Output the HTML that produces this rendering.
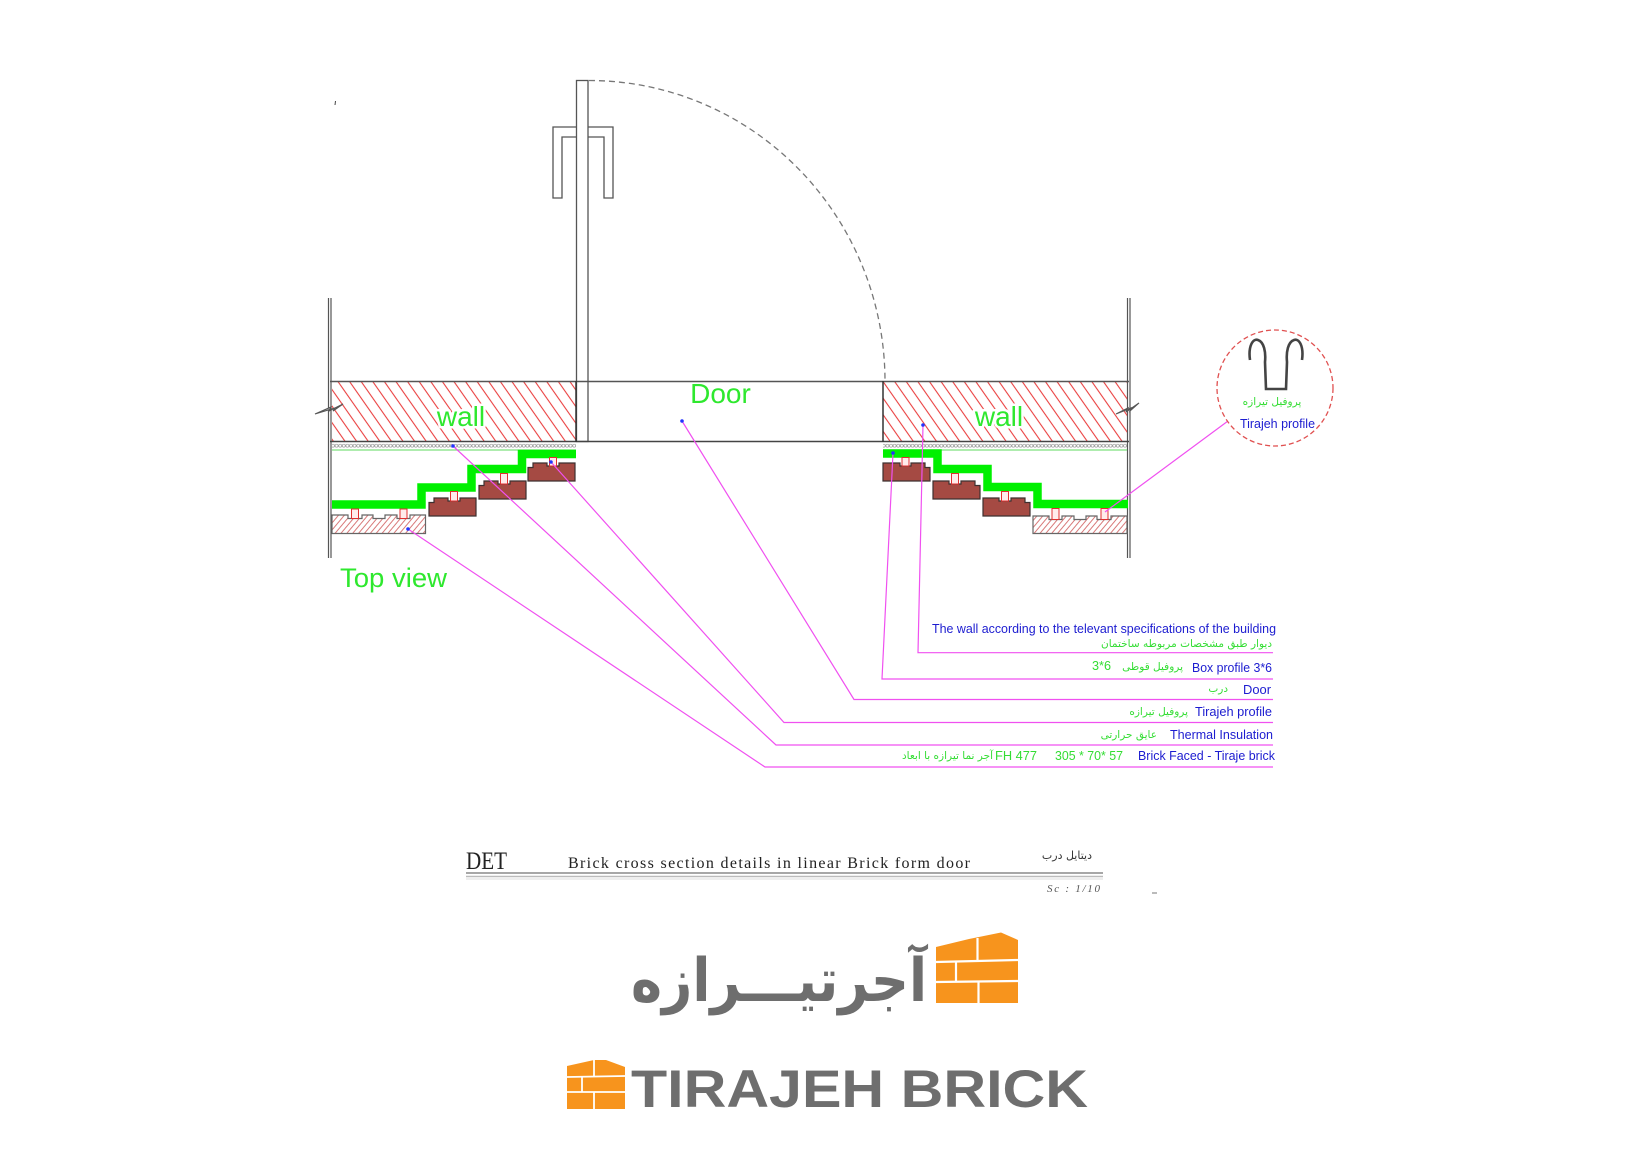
<!DOCTYPE html>
<html><head><meta charset="utf-8"><style>html,body{margin:0;padding:0;background:#fff}svg{display:block}</style></head>
<body>
<svg width="1650" height="1168" viewBox="0 0 1650 1168" xmlns="http://www.w3.org/2000/svg">
<defs>
<pattern id="wh" patternUnits="userSpaceOnUse" width="9.5" height="10" patternTransform="rotate(-35)">
<line x1="1" y1="0" x2="1" y2="10" stroke="#ea4040" stroke-width="1.1"/>
</pattern>
<pattern id="bh" patternUnits="userSpaceOnUse" width="4.5" height="10" patternTransform="rotate(40)">
<line x1="1" y1="0" x2="1" y2="10" stroke="#d46a6a" stroke-width="0.9"/>
</pattern>
<pattern id="ins" patternUnits="userSpaceOnUse" width="3.6" height="7" x="0" y="442.5">
<circle cx="1.8" cy="3.2" r="1.5" fill="none" stroke="#999" stroke-width="0.7"/>
</pattern>
</defs>
<rect width="1650" height="1168" fill="#fff"/>

<line x1="335.5" y1="101" x2="335" y2="105" stroke="#444" stroke-width="1"/>

<path d="M589,80.5 A296 301 0 0 1 885,381" fill="none" stroke="#777" stroke-width="1.3" stroke-dasharray="6 4"/>

<path d="M553,198 L553,127 L613,127 L613,198 L604,198 L604,137 L562,137 L562,198 Z" fill="#fff" stroke="#555" stroke-width="1.3"/>
<rect x="576.5" y="80.5" width="11.5" height="361" fill="#fff" stroke="#555" stroke-width="1.3"/>

<line x1="328.5" y1="298" x2="328.5" y2="558" stroke="#555" stroke-width="1.2"/>
<line x1="331" y1="298" x2="331" y2="558" stroke="#555" stroke-width="1.2"/>
<line x1="1127.5" y1="298" x2="1127.5" y2="558" stroke="#555" stroke-width="1.2"/>
<line x1="1130" y1="298" x2="1130" y2="558" stroke="#555" stroke-width="1.2"/>

<rect x="332" y="381.5" width="244" height="60" fill="url(#wh)"/>
<rect x="883" y="381.5" width="244" height="60" fill="url(#wh)"/>
<line x1="330" y1="381.5" x2="1129" y2="381.5" stroke="#555" stroke-width="1.5"/>
<line x1="330" y1="441.5" x2="1129" y2="441.5" stroke="#444" stroke-width="1.5"/>
<line x1="576" y1="381" x2="576" y2="442" stroke="#333" stroke-width="1.5"/>
<line x1="883" y1="381" x2="883" y2="442" stroke="#333" stroke-width="1.5"/>

<rect x="332" y="442.5" width="244" height="7" fill="url(#ins)"/>
<rect x="883" y="442.5" width="244" height="7" fill="url(#ins)"/>
<line x1="332" y1="450" x2="576" y2="450" stroke="#7de07d" stroke-width="1.2"/>
<line x1="883" y1="450" x2="1127" y2="450" stroke="#7de07d" stroke-width="1.2"/>

<path d="M315,414 L331,407 L329,411 L343,404 L333,411 L335,408 Z" fill="#bbb" stroke="#555" stroke-width="1.1"/>
<path d="M1116,414 L1128,408 L1126,412 L1139,403 L1130,411 L1131,408 Z" fill="#bbb" stroke="#555" stroke-width="1.1"/>

<g font-family="Liberation Sans, sans-serif" font-size="28" fill="#2ee82e" text-anchor="middle" stroke="#fff" stroke-width="5" paint-order="stroke" stroke-linejoin="round">
<text x="461" y="426">wall</text>
<text x="999" y="426">wall</text>
</g>
<text x="720.5" y="403" font-family="Liberation Sans, sans-serif" font-size="28" fill="#2ee82e" text-anchor="middle">Door</text>

<polyline points="576,454 522,454 522,469 471.5,469 471.5,487.5 421.5,487.5 421.5,504.5 332,504.5" fill="none" stroke="#00f000" stroke-width="8.5" stroke-linejoin="miter"/>
<polyline points="883,453.5 937.5,453.5 937.5,469 987.5,469 987.5,487 1037.5,487 1037.5,504 1128,504" fill="none" stroke="#00f000" stroke-width="8.5" stroke-linejoin="miter"/>

<g fill="#a54a43" stroke="#3d3030" stroke-width="1.2">
<path d="M528,467.5 L533,467.5 L533,463 L547,463 L547,466 L559,466 L559,463 L575,463 L575,481 L528,481 Z"/>
<path d="M479,485.5 L484,485.5 L484,481 L498,481 L498,484 L510,484 L510,481 L526,481 L526,499 L479,499 Z"/>
<path d="M429,502.5 L434,502.5 L434,498 L448,498 L448,501 L460,501 L460,498 L476,498 L476,516 L429,516 Z"/>
<path d="M883,463 L900,463 L900,466 L911,466 L911,463 L925,463 L925,467.5 L930,467.5 L930,481 L883,481 Z"/>
<path d="M933,481 L949,481 L949,484 L961,484 L961,481 L975,481 L975,485.5 L980,485.5 L980,499 L933,499 Z"/>
<path d="M983,498 L999,498 L999,501 L1011,501 L1011,498 L1025,498 L1025,502.5 L1030,502.5 L1030,516 L983,516 Z"/>
</g>
<path d="M332,515 L348,515 L348,518.5 L362,518.5 L362,515 L373,515 L373,518.5 L385,518.5 L385,515 L397,515 L397,518.5 L410,518.5 L410,515 L425.5,515 L425.5,533.5 L332,533.5 Z" fill="url(#bh)" stroke="#666" stroke-width="1.2"/>
<path d="M1033,516 L1049,516 L1049,519.5 L1062,519.5 L1062,516 L1074,516 L1074,519.5 L1086,519.5 L1086,516 L1097,516 L1097,519.5 L1111,519.5 L1111,516 L1127,516 L1127,533.5 L1033,533.5 Z" fill="url(#bh)" stroke="#666" stroke-width="1.2"/>

<g fill="#ffecec" stroke="#e03030" stroke-width="1">
<rect x="549.5" y="457.5" width="7" height="8.5"/>
<rect x="500.5" y="473.5" width="7" height="10.5"/>
<rect x="450.5" y="491.5" width="7" height="9.5"/>
<rect x="351.5" y="509" width="7" height="9.5"/>
<rect x="400" y="509" width="7" height="9.5"/>
<rect x="902" y="457.5" width="7" height="8.5"/>
<rect x="951.5" y="473.5" width="7" height="10.5"/>
<rect x="1001.5" y="491.5" width="7" height="9.5"/>
<rect x="1052" y="508.5" width="7" height="11"/>
<rect x="1101" y="508.5" width="7" height="11"/>
</g>

<text x="340" y="587" font-family="Liberation Sans, sans-serif" font-size="27" fill="#2ee82e" textLength="107" lengthAdjust="spacingAndGlyphs">Top view</text>

<g fill="none" stroke="#f050f0" stroke-width="1.2">
<polyline points="923,425 918,652.7 1273,652.7"/>
<polyline points="893,453 882,679 1273,679"/>
<polyline points="682,421 854,699.5 1273,699.5"/>
<polyline points="551,462 784,722.5 1273,722.5"/>
<polyline points="453,446 776,745 1273,745"/>
<polyline points="408,529 765,767 1273,767"/>
<line x1="1105" y1="512" x2="1228" y2="421"/>
</g>
<g fill="#2233ff">
<circle cx="923" cy="425" r="1.8"/>
<circle cx="893" cy="453" r="1.8"/>
<circle cx="682" cy="421" r="1.8"/>
<circle cx="551" cy="462" r="1.8"/>
<circle cx="453" cy="446" r="1.8"/>
<circle cx="408" cy="529" r="1.8"/>
</g>

<circle cx="1275" cy="388" r="58" fill="none" stroke="#e05050" stroke-width="1.3" stroke-dasharray="5 3"/>
<path d="M1250,360 C1248,346 1253,338 1258,340 C1264,342 1266,352 1265,362 L1266,389 L1286,389 L1287,362 C1286,352 1288,342 1294,340 C1299,338 1304,346 1302,360" fill="none" stroke="#444" stroke-width="2.6"/>
<text x="1272" y="405" font-family="DejaVu Sans, sans-serif" font-size="10.5" fill="#33dd33" text-anchor="middle">پروفیل تیرازه</text>
<text x="1240" y="428" font-family="Liberation Sans, sans-serif" font-size="12.5" fill="#1c1cd0" textLength="75" lengthAdjust="spacingAndGlyphs">Tirajeh profile</text>

<g font-family="Liberation Sans, sans-serif" font-size="12.5" fill="#1c1cd0">
<text x="932" y="633" textLength="344" lengthAdjust="spacingAndGlyphs">The wall according to the televant specifications of the building</text>
<text x="1192" y="672" textLength="80" lengthAdjust="spacingAndGlyphs">Box profile 3*6</text>
<text x="1243" y="694" textLength="28" lengthAdjust="spacingAndGlyphs">Door</text>
<text x="1195" y="716" textLength="77" lengthAdjust="spacingAndGlyphs">Tirajeh profile</text>
<text x="1170" y="739" textLength="103" lengthAdjust="spacingAndGlyphs">Thermal Insulation</text>
<text x="1138" y="760" textLength="137" lengthAdjust="spacingAndGlyphs">Brick Faced - Tiraje brick</text>
</g>
<g font-family="DejaVu Sans, sans-serif" font-size="10.5" fill="#33dd33">
<text x="1272" y="647" text-anchor="end">دیوار طبق مشخصات مربوطه ساختمان</text>
<text x="1183" y="670" text-anchor="end">پروفیل قوطی</text>
<text x="1228" y="692" text-anchor="end">درب</text>
<text x="1188" y="715" text-anchor="end">پروفیل تیرازه</text>
<text x="1157" y="738" text-anchor="end">عایق حرارتی</text>
<text x="993" y="759" text-anchor="end">آجر نما تیرازه با ابعاد</text>
</g>
<g font-family="Liberation Sans, sans-serif" font-size="12.5" fill="#33dd33">
<text x="1092" y="670" textLength="19" lengthAdjust="spacingAndGlyphs">3*6</text>
<text x="1055" y="760" textLength="68" lengthAdjust="spacingAndGlyphs">305 * 70* 57</text>
<text x="995" y="760" textLength="42" lengthAdjust="spacingAndGlyphs">FH 477</text>
</g>

<text x="466" y="869" font-family="Liberation Serif, serif" font-size="25" fill="#222" textLength="41" lengthAdjust="spacingAndGlyphs">DET</text>
<text x="568" y="868" font-family="Liberation Serif, serif" font-size="16" fill="#222" textLength="402" lengthAdjust="spacing">Brick cross section details in linear Brick form door</text>
<text x="1092" y="859" font-family="DejaVu Sans, sans-serif" font-size="11" fill="#333" text-anchor="end">دیتایل درب</text>
<line x1="466" y1="873" x2="1103" y2="873" stroke="#8a8a8a" stroke-width="1.6"/>
<line x1="466" y1="876.5" x2="1103" y2="876.5" stroke="#bbb" stroke-width="1.4"/>
<line x1="466" y1="879" x2="1103" y2="879" stroke="#ddd" stroke-width="1"/>
<text x="1047" y="892" font-family="Liberation Serif, serif" font-size="11" font-style="italic" fill="#555" textLength="53" lengthAdjust="spacing">Sc : 1/10</text>
<line x1="1152" y1="893" x2="1157" y2="893" stroke="#777" stroke-width="1"/>

<text x="631" y="1001" font-family="DejaVu Sans, sans-serif" font-weight="bold" font-size="60" fill="#6e6e6e" textLength="296" lengthAdjust="spacingAndGlyphs">آجرتیـــرازه</text>
<polygon points="936,947 969,939 1001,932.5 1018,940 1018,1003 936,1003" fill="#f7941d"/>
<g stroke="#fff" stroke-width="2.2">
<line x1="936" y1="962" x2="1018" y2="960"/>
<line x1="936" y1="982" x2="1018" y2="981"/>
<line x1="977.5" y1="938" x2="977.5" y2="961"/>
<line x1="956" y1="962" x2="956" y2="982"/>
<line x1="978.5" y1="982" x2="978.5" y2="1003"/>
</g>

<polygon points="567,1066 594,1060 606,1060 625,1067 625,1109 567,1109" fill="#f7941d"/>
<g stroke="#fff" stroke-width="1.8">
<line x1="567" y1="1077" x2="625" y2="1076"/>
<line x1="567" y1="1092" x2="625" y2="1092"/>
<line x1="594" y1="1060" x2="594" y2="1077"/>
<line x1="582" y1="1077" x2="582" y2="1092"/>
<line x1="594" y1="1092" x2="594" y2="1109"/>
</g>
<text x="631" y="1107" font-family="Liberation Sans, sans-serif" font-weight="bold" font-size="53" fill="#6e6e6e" textLength="457" lengthAdjust="spacingAndGlyphs">TIRAJEH BRICK</text>
</svg>
</body></html>
